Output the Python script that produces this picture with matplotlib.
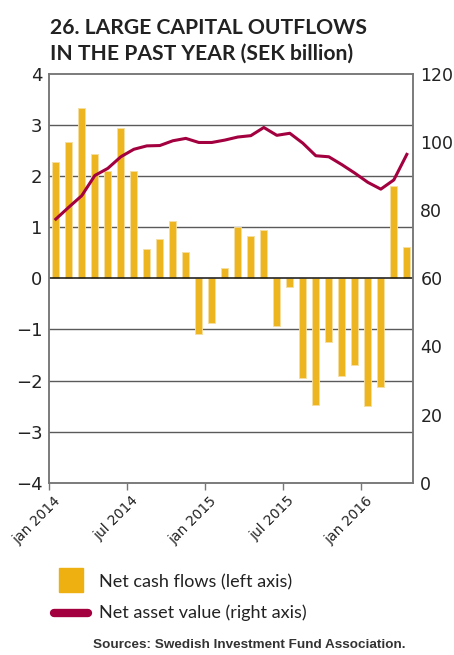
import matplotlib
matplotlib.use("Agg")
import matplotlib.pyplot as plt
from matplotlib.lines import Line2D
from matplotlib.patches import Rectangle
from matplotlib.transforms import ScaledTranslation
import numpy as np

# ---- data ----
months = ["2014-01", "2014-02", "2014-03", "2014-04", "2014-05", "2014-06",
          "2014-07", "2014-08", "2014-09", "2014-10", "2014-11", "2014-12",
          "2015-01", "2015-02", "2015-03", "2015-04", "2015-05", "2015-06",
          "2015-07", "2015-08", "2015-09", "2015-10", "2015-11", "2015-12",
          "2016-01", "2016-02", "2016-03", "2016-04"]
net_cash_flows = [2.27, 2.66, 3.33, 2.43, 2.11, 2.94, 2.10, 0.57, 0.77, 1.13,
                  0.51, -1.09, -0.88, 0.21, 1.01, 0.83, 0.94, -0.93, -0.16,
                  -1.95, -2.47, -1.25, -1.91, -1.70, -2.50, -2.13, 1.81, 0.61]
net_asset_value = [77.4, 80.9, 84.3, 90.2, 92.3, 95.7, 97.9, 98.9, 99.0, 100.4,
                   101.1, 99.9, 99.9, 100.6, 101.5, 101.9, 104.3, 102.0, 102.6,
                   99.7, 96.0, 95.7, 93.4, 90.9, 88.2, 86.2, 88.9, 96.4]
tick_months = ["2014-01", "2014-07", "2015-01", "2015-07", "2016-01"]
tick_labels = ["jan 2014", "jul 2014", "jan 2015", "jul 2015", "jan 2016"]
left_ticks = [-4, -3, -2, -1, 0, 1, 2, 3, 4]
right_ticks = [0, 20, 40, 60, 80, 100, 120]

title_lines = ["26. LARGE CAPITAL OUTFLOWS", "IN THE PAST YEAR (SEK billion)"]
legend_bar = "Net cash flows (left axis)"
legend_line = "Net asset value (right axis)"
source = "Sources: Swedish Investment Fund Association."

BAR = "#EDB520"
LINE = "#A3003F"
TXT = "#222222"
SPINE = "#777777"
NARROW = ["Lato", "DejaVu Sans"]

fig = plt.figure(figsize=(4.54, 6.55), dpi=100)
ax = fig.add_axes([0.1086, 0.2630, 0.8018, 0.624])

x = np.array([months.index(m) for m in months]) + 0.5
ax.bar(x, net_cash_flows, width=0.56, color=BAR, edgecolor="#F6DFA0",
       linewidth=0.6, zorder=2)
for v in left_ticks[1:-1]:
    if v == 0:
        ax.axhline(v, color="#111111", lw=1.1, zorder=2.5)
    else:
        ax.axhline(v, color="#5a5a5a", lw=1.0, zorder=1)
ax.set_ylim(-4, 4)
ax.set_xlim(0, 28)
ax.set_yticks(left_ticks)
ax.set_yticklabels(["\u2212%d" % -v if v < 0 else str(v) for v in left_ticks])
ax.set_xticks([months.index(m) for m in tick_months])
ax.set_xticklabels(tick_labels, rotation=45, ha="right", va="top",
                   rotation_mode="anchor", fontsize=10, color=TXT)
ax.tick_params(axis="y", length=0, pad=5, labelsize=13, labelcolor=TXT)
ax.tick_params(axis="x", length=5, width=1, color=SPINE, pad=3)
for lab in ax.get_xticklabels():
    lab.set_transform(lab.get_transform() + ScaledTranslation(0.04, 0, fig.dpi_scale_trans))

ax2 = ax.twinx()
ax2.plot(x, net_asset_value, color=LINE, lw=2.2, zorder=3)
ax2.set_ylim(0, 120)
ax2.set_yticks(right_ticks)
ax2.tick_params(axis="y", length=0, pad=5, labelsize=12.5, labelcolor=TXT)

for a in (ax, ax2):
    for s in a.spines.values():
        s.set_color(SPINE)
        s.set_linewidth(1.1)

# title
fig.text(50 / 454, 1 - 34.3 / 655, title_lines[0], fontsize=15.2, family=NARROW,
         fontweight="bold", color=TXT, va="baseline")
fig.text(50 / 454, 1 - 59.3 / 655, title_lines[1], fontsize=15.2, family=NARROW,
         fontweight="bold", color=TXT, va="baseline")

# legend
fig.add_artist(Rectangle((59 / 454, 1 - 592 / 655), 24 / 454, 24 / 655,
                         transform=fig.transFigure, color="#EDB010"))
fig.add_artist(Line2D([54 / 454, 88 / 454], [1 - 613 / 655, 1 - 613 / 655],
                      transform=fig.transFigure, color=LINE, lw=6,
                      solid_capstyle="round"))
fig.text(99 / 454, 1 - 582 / 655, legend_bar, fontsize=13, family=NARROW,
         color=TXT, va="center")
fig.text(99 / 454, 1 - 613 / 655, legend_line, fontsize=13, family=NARROW,
         color=TXT, va="center")
fig.text(93 / 454, 1 - 645 / 655, source, fontsize=9.7, family=["Liberation Sans", "DejaVu Sans"],
         fontweight="bold", color="#333333", va="center")

fig.savefig("out.png", dpi=100)
